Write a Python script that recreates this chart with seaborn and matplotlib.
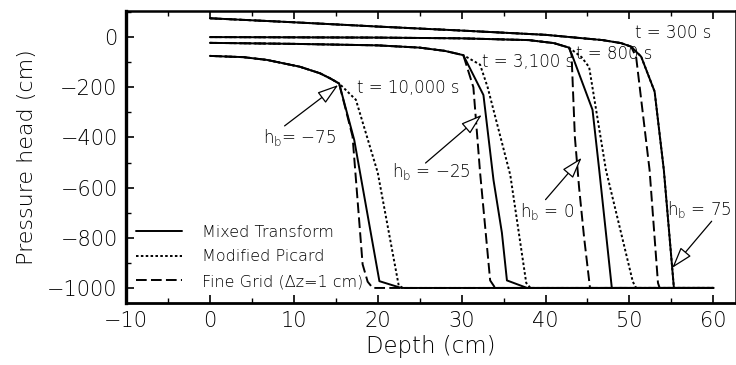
import numpy as np
import pandas as pd
import matplotlib
matplotlib.use("Agg")
import matplotlib.pyplot as plt
import seaborn as sns

sns.set_theme(style="ticks")
plt.rcParams["font.family"] = ["DejaVu Sans"]
plt.rcParams["font.weight"] = "light"
plt.rcParams["axes.labelweight"] = "light"
plt.rcParams["mathtext.default"] = "regular"
for key in ["text.color", "axes.labelcolor", "xtick.color", "ytick.color", "axes.edgecolor"]:
    plt.rcParams[key] = "black"

# ---- pressure-head profiles, depth (cm) vs head (cm) ----
methods = ["Mixed Transform", "Modified Picard", "Fine Grid (\u0394z=1 cm)"]
boundary_heads = [75, 0, -25, -75]

# h_b = 75 cm, t = 300 s
depth_75_upper = [0, 10, 20, 30, 40, 46.8, 49.0, 50.2]
head_75_upper = [75, 59, 42, 26, 9, -12, -24, -38]
depth_75_mt = [51.4, 53.0, 54.1, 55.3, 60]
head_75_mt = [-78, -217, -530, -1000, -1000]
depth_75_mp = [51.4, 53.0, 54.1, 55.3, 60]
head_75_mp = [-78, -217, -530, -1000, -1000]
depth_75_fg = [50.8, 52.4, 53.4, 53.6, 60]
head_75_fg = [-80, -530, -980, -1000, -1000]

# h_b = 0 cm, t = 800 s
depth_0_upper = [0, 10, 20, 30, 38, 41, 42.8]
head_0_upper = [0, -1, -2, -5, -12, -24, -42]
depth_0_mt = [43.2, 45.6, 46.4, 47.9, 60]
head_0_mt = [-75, -290, -530, -1000, -1000]
depth_0_mp = [44.3, 45.2, 47.2, 50.4, 50.8, 60]
head_0_mp = [-80, -120, -530, -975, -1000, -1000]
depth_0_fg = [43.1, 43.5, 44.0, 44.6, 45.3, 60]
head_0_fg = [-70, -400, -600, -800, -1000, -1000]

# h_b = -25 cm, t = 3,100 s
depth_m25_upper = [0, 10, 20, 25, 28, 30.2]
head_m25_upper = [-23, -27, -33, -42, -55, -72]
depth_m25_mt = [32.6, 33.8, 34.8, 35.4, 37.8, 60]
head_m25_mt = [-231, -570, -780, -970, -1000, -1000]
depth_m25_mp = [32.2, 33.1, 35.8, 37.7, 38.2, 60]
head_m25_mp = [-110, -200, -550, -980, -1000, -1000]
depth_m25_fg = [31.4, 32.2, 33.4, 34.0, 60]
head_m25_fg = [-200, -540, -970, -1000, -1000]

# h_b = -75 cm, t = 10,000 s
depth_m75_upper = [0, 4, 6.8, 10.7, 13.1, 14.3, 15.4]
head_m75_upper = [-75, -80, -91, -118, -144, -164, -185]
depth_m75_mt = [17.2, 20.2, 22.8, 60]
head_m75_mt = [-410, -973, -1000, -1000]
depth_m75_mp = [17.4, 20.0, 22.5, 23.0, 60]
head_m75_mp = [-250, -540, -990, -1000, -1000]
depth_m75_fg = [17.0, 18.2, 18.8, 19.4, 60]
head_m75_fg = [-396, -906, -975, -1000, -1000]

profiles = {
    75: (depth_75_upper, head_75_upper,
         [(depth_75_mt, head_75_mt), (depth_75_mp, head_75_mp), (depth_75_fg, head_75_fg)]),
    0: (depth_0_upper, head_0_upper,
        [(depth_0_mt, head_0_mt), (depth_0_mp, head_0_mp), (depth_0_fg, head_0_fg)]),
    -25: (depth_m25_upper, head_m25_upper,
          [(depth_m25_mt, head_m25_mt), (depth_m25_mp, head_m25_mp), (depth_m25_fg, head_m25_fg)]),
    -75: (depth_m75_upper, head_m75_upper,
          [(depth_m75_mt, head_m75_mt), (depth_m75_mp, head_m75_mp), (depth_m75_fg, head_m75_fg)]),
}

rows = []
for hb in boundary_heads:
    d_up, h_up, tails = profiles[hb]
    for method, (d_tail, h_tail) in zip(methods, tails):
        for i, (d, h) in enumerate(zip(d_up + d_tail, h_up + h_tail)):
            rows.append({"depth": d, "head": h, "method": method,
                         "curve": f"{hb}_{method}", "order": i})
df = pd.DataFrame(rows)

fig = plt.figure(figsize=(7.36, 3.65), dpi=100)
ax = fig.add_axes([126 / 736, 62 / 365, 610 / 736, 292 / 365])

sns.lineplot(
    data=df, x="depth", y="head", style="method", style_order=methods,
    units="curve", estimator=None, sort=False, color="black",
    dashes={methods[0]: "", methods[1]: (1.3, 1.2), methods[2]: (5.5, 2.2)},
    linewidth=1.4, ax=ax, legend=True,
)

ax.set_xlim(-10, 62.7)
ax.set_ylim(-1060, 104)
ax.set_xticks(np.arange(-10, 61, 10))
ax.set_xticks(np.arange(-10, 61, 5), minor=True)
ax.set_yticks(np.arange(-1000, 1, 200))
ax.set_yticks(np.arange(-1000, 101, 100), minor=True)
ax.tick_params(which="both", direction="in", top=True, right=False,
               colors="black", labelsize=15)
ax.tick_params(which="major", length=6, width=1.2)
ax.tick_params(which="minor", length=3.5, width=1.0)
ax.tick_params(axis="x", pad=6)
ax.tick_params(axis="y", pad=6)
for side, lw in [("left", 2.4), ("bottom", 2.0), ("top", 1.8), ("right", 1.8)]:
    ax.spines[side].set_linewidth(lw)
    ax.spines[side].set_color("black")

ax.set_xlabel("Depth (cm)", fontsize=16.5, labelpad=3, fontweight="light")
ax.set_ylabel("Pressure head (cm)", fontsize=16, labelpad=7, fontweight="light")

sns.move_legend(ax, "lower left", bbox_to_anchor=(0.0, 0.015), frameon=False,
                title=None, fontsize=11.5, handlelength=2.9, handletextpad=1.25,
                labelspacing=0.6, borderaxespad=0.2)

# time labels
for x, y, s in [(50.7, 16, "t = 300 s"), (43.6, -68, "t = 800 s"),
                (32.4, -99, "t = 3,100 s"), (17.5, -203, "t = 10,000 s")]:
    ax.text(x, y, s, fontsize=12, ha="left", va="center")

# boundary-head labels with hollow arrows
arrow = dict(arrowstyle="-|>,head_length=1.1,head_width=0.35", facecolor="white",
             edgecolor="black", lw=0.9, shrinkA=0, shrinkB=0)
for text_xy, start, tip, label in [
    ((6.3, -402), (8.9, -354), (15.3, -191), "h$_{b}$= \u221275"),
    ((21.7, -537), (25.7, -502), (32.4, -310), "h$_{b}$ = \u221225"),
    ((37.0, -696), (40.0, -648), (44.3, -481), "h$_{b}$ = 0"),
    ((54.5, -688), (59.8, -734), (55.1, -920), "h$_{b}$ = 75"),
]:
    ax.text(text_xy[0], text_xy[1], label, fontsize=12, ha="left", va="center")
    ax.annotate("", xy=tip, xytext=start, arrowprops=arrow)

fig.savefig("out.png", dpi=100)
